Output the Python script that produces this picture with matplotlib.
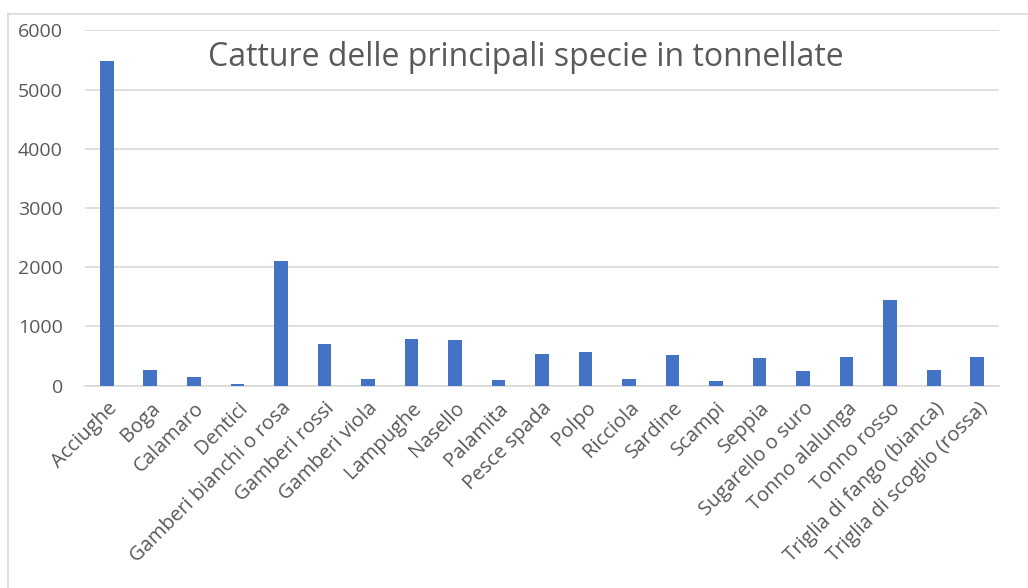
import matplotlib
matplotlib.use("Agg")
import matplotlib.pyplot as plt
from matplotlib.lines import Line2D
import numpy as np

# catture per specie (tonnellate)
specie = ["Acciughe", "Boga", "Calamaro", "Dentici", "Gamberi bianchi o rosa",
          "Gamberi rossi", "Gamberi viola", "Lampughe", "Nasello", "Palamita",
          "Pesce spada", "Polpo", "Ricciola", "Sardine", "Scampi", "Seppia",
          "Sugarello o suro", "Tonno alalunga", "Tonno rosso",
          "Triglia di fango (bianca)", "Triglia di scoglio (rossa)"]
catture = [5480, 260, 142, 29, 2100, 708, 113, 782, 771, 96,
           535, 568, 118, 513, 79, 467, 243, 479, 1455, 260, 484]
yticks = [0, 1000, 2000, 3000, 4000, 5000, 6000]

TXT = "#595959"
plt.rcParams["font.family"] = ["Open Sans", "DejaVu Sans"]

fig = plt.figure(figsize=(10.28, 5.88), dpi=100)
W, H = 1028, 588
ax = fig.add_axes([85/W, 1-385.7/H, (999-85)/W, (385.7-30.3)/H])

x = np.arange(len(specie))
ax.bar(x, catture, width=0.313, color="#4472C4", zorder=3)
ax.set_xlim(-0.5, len(specie)-0.5)
ax.set_ylim(0, 6000)
ax.set_yticks(yticks)
ax.set_yticklabels([str(v) for v in yticks], fontsize=14, color=TXT)
ax.set_xticks(x)
ax.set_xticklabels(specie, rotation=45, ha="right", rotation_mode="anchor",
                   fontsize=14.5, color=TXT)
ax.tick_params(axis="both", length=0)
ax.tick_params(axis="y", pad=16)
ax.tick_params(axis="x", pad=9)
ax.grid(axis="y", color="#D9D9D9", lw=1.2, zorder=0)
for s in ["top", "right", "left"]:
    ax.spines[s].set_visible(False)
ax.spines["bottom"].set_color("#D9D9D9")
ax.spines["bottom"].set_linewidth(1.2)

fig.text(526/W, 1-58/H, "Catture delle principali specie in tonnellate",
         ha="center", va="center", fontsize=23, color=TXT)

# bordo del riquadro del grafico
fig.add_artist(Line2D([7.5/W, 1], [1-13.5/H, 1-13.5/H], color="#D9D9D9", lw=1.2))
fig.add_artist(Line2D([7.5/W, 7.5/W], [0, 1-13.5/H], color="#D9D9D9", lw=1.2))

fig.savefig("out.png", dpi=100)
